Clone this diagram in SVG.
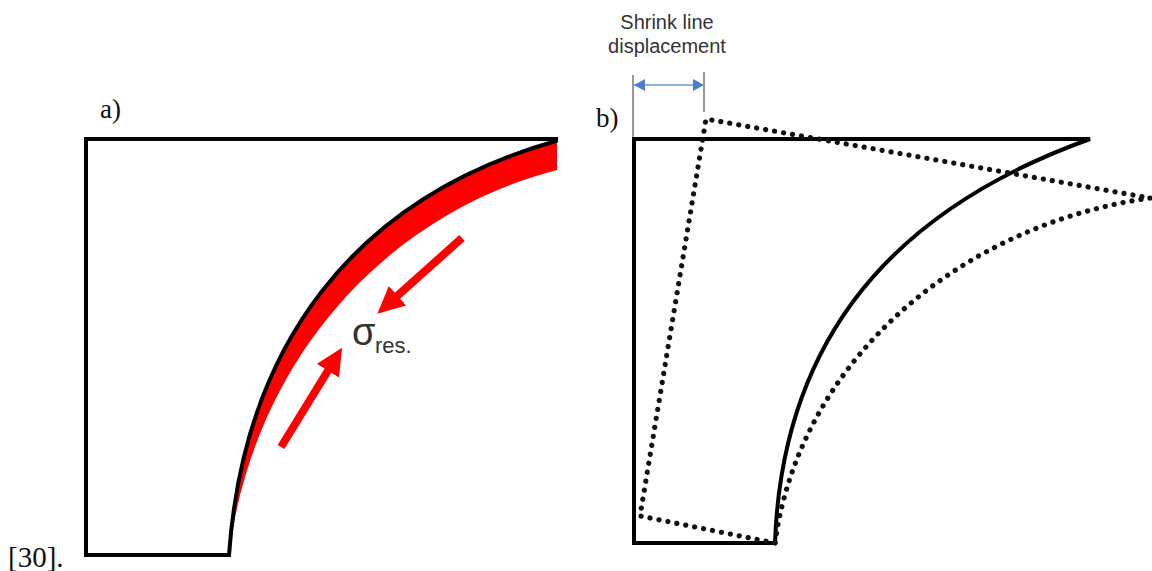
<svg xmlns="http://www.w3.org/2000/svg" width="1152" height="571" viewBox="0 0 1152 571">
<style>
.o{fill:none;stroke:#000;stroke-width:4;stroke-linejoin:miter}
.d{fill:none;stroke:#111;stroke-width:5.2;stroke-dasharray:.1 9;stroke-linecap:round}
.t{font-family:"Liberation Serif",serif;font-size:27px;fill:#111}
.s{font-family:"Liberation Sans",sans-serif;fill:#333}
.r{stroke:#f00;stroke-width:8;fill:none}
.g{stroke:#999;stroke-width:2;fill:none}
</style>
<defs>
<marker id="ar" markerUnits="userSpaceOnUse" markerWidth="30" markerHeight="30" refX="2" refY="13" orient="auto"><path d="M0 0L27 13L0 26Z" fill="#f00"/></marker>
<marker id="bl" markerUnits="userSpaceOnUse" markerWidth="14" markerHeight="14" refX="11" refY="6" orient="auto-start-reverse"><path d="M0 0L11 6L0 12Z" fill="#4a7fd0"/></marker>
</defs>
<rect width="1152" height="571" fill="#fff"/>
<g id="panel-a">
<path d="M229 555C252 365 382 215 557 170V141C354 198 244 345 229 555Z" fill="#f00"/>
<path class="o" d="M229 555H86V139H556V141C354 198 244 345 229 555Z"/>
<text class="t" x="100" y="118">a)</text>
<text class="s" x="352" y="345" font-size="38" fill="#222">σ</text>
<text class="s" x="375" y="353" font-size="22">res.</text>
</g>
<g id="panel-b">
<path class="o" d="M775 543H634V139H1090C920 200 783 315 775 543Z"/>
<text class="t" x="596" y="127">b)</text>
<text class="s" x="667" y="29" font-size="20" text-anchor="middle">Shrink line</text>
<text class="s" x="667" y="53" font-size="20" text-anchor="middle">displacement</text>
</g>
<g id="connectors">
<path class="r" d="M462 238L396 297" marker-end="url(#ar)"/>
<path class="r" d="M281 447L329 369" marker-end="url(#ar)"/>
<path class="g" d="M633 75V137M704 72V112"/>
<path d="M634 85H704" stroke="#8fb0e6" stroke-width="1.8" fill="none" marker-start="url(#bl)" marker-end="url(#bl)"/>
<path class="d" d="M775 543L640 516L706 119L1150 198"/>
<path class="d" d="M1150 198C960 225 800 360 775 543"/>
</g>
<text x="8" y="567" font-family="Liberation Serif,serif" font-size="29" fill="#111">[30].</text>
</svg>
